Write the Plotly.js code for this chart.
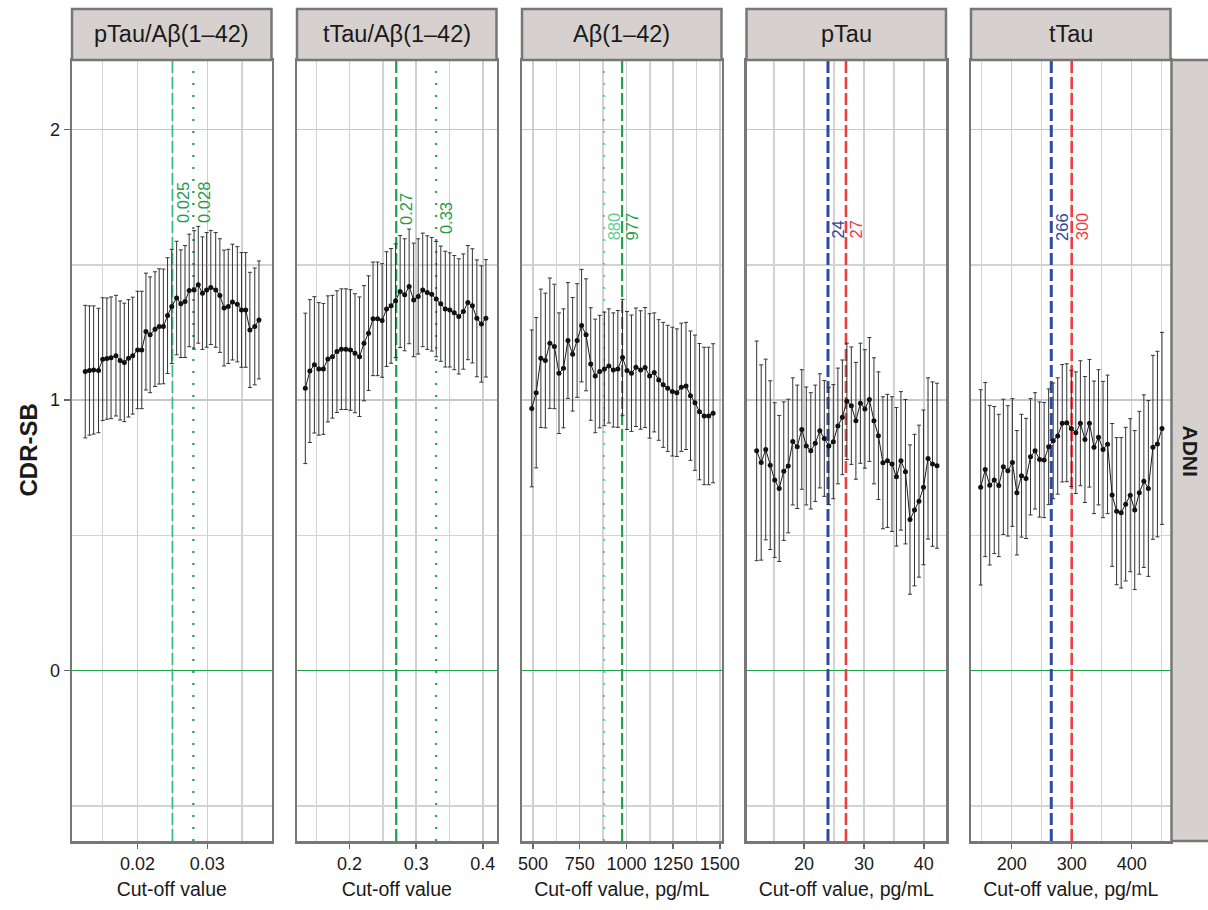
<!DOCTYPE html>
<html><head><meta charset="utf-8">
<script src="https://cdn.plot.ly/plotly-3.0.1.min.js"></script>
<style>html,body{margin:0;padding:0;background:#fff}#chart{width:1208px;height:910px}</style>
</head><body><div id="chart"></div>
<script>
// ---- data ----
const panelTitles = ["pTau/A\u03b2(1\u201342)", "tTau/A\u03b2(1\u201342)", "A\u03b2(1\u201342)", "pTau", "tTau"];
const xTitles = ["Cut-off value", "Cut-off value", "Cut-off value, pg/mL", "Cut-off value, pg/mL", "Cut-off value, pg/mL"];
const rowLabel = "ADNI";
const yTitle = "CDR-SB";

const x1 = [0.0125,0.0131,0.0137,0.0144,0.0150,0.0156,0.0162,0.0169,0.0175,0.0181,0.0187,0.0193,0.0200,0.0206,0.0212,0.0218,0.0225,0.0231,0.0237,0.0243,0.0249,0.0256,0.0262,0.0268,0.0274,0.0281,0.0287,0.0293,0.0299,0.0305,0.0312,0.0318,0.0324,0.0330,0.0336,0.0343,0.0349,0.0355,0.0361,0.0368,0.0374];
const y1 = [1.105,1.109,1.111,1.109,1.151,1.153,1.156,1.164,1.146,1.139,1.154,1.164,1.185,1.185,1.253,1.241,1.262,1.272,1.272,1.312,1.346,1.377,1.356,1.364,1.405,1.407,1.426,1.395,1.407,1.416,1.407,1.386,1.340,1.346,1.362,1.354,1.333,1.333,1.259,1.272,1.296];
const e1 = [0.245,0.239,0.237,0.230,0.227,0.224,0.225,0.223,0.220,0.219,0.217,0.216,0.217,0.217,0.216,0.214,0.212,0.213,0.212,0.214,0.211,0.210,0.199,0.207,0.208,0.219,0.216,0.208,0.212,0.211,0.212,0.210,0.214,0.211,0.214,0.213,0.212,0.212,0.213,0.216,0.218];

const x2 = [0.1335,0.1403,0.1471,0.1538,0.1606,0.1674,0.1742,0.1810,0.1877,0.1945,0.2013,0.2081,0.2149,0.2216,0.2284,0.2352,0.2420,0.2488,0.2555,0.2623,0.2691,0.2759,0.2827,0.2894,0.2962,0.3030,0.3098,0.3166,0.3233,0.3301,0.3369,0.3437,0.3505,0.3572,0.3640,0.3708,0.3776,0.3844,0.3911,0.3979,0.4047];
const y2 = [1.043,1.107,1.130,1.115,1.115,1.152,1.160,1.179,1.188,1.188,1.185,1.173,1.160,1.210,1.247,1.300,1.300,1.294,1.336,1.348,1.367,1.401,1.389,1.420,1.370,1.383,1.407,1.397,1.391,1.373,1.356,1.336,1.333,1.323,1.309,1.327,1.360,1.348,1.302,1.281,1.302];
const e2 = [0.278,0.264,0.252,0.245,0.242,0.233,0.227,0.225,0.223,0.223,0.223,0.220,0.221,0.213,0.212,0.210,0.210,0.210,0.212,0.212,0.210,0.207,0.207,0.212,0.210,0.213,0.210,0.210,0.210,0.213,0.213,0.214,0.211,0.211,0.213,0.213,0.211,0.211,0.216,0.215,0.217];

const x3 = [493,517,542,566,590,614,639,663,687,712,736,760,784,809,833,857,882,906,930,954,979,1003,1027,1051,1076,1100,1124,1149,1173,1197,1221,1246,1270,1294,1319,1343,1367,1391,1416,1440,1464];
const y3 = [0.969,1.027,1.154,1.146,1.210,1.198,1.099,1.117,1.220,1.169,1.220,1.275,1.241,1.133,1.089,1.105,1.115,1.126,1.111,1.115,1.157,1.109,1.099,1.121,1.111,1.120,1.089,1.102,1.074,1.056,1.043,1.031,1.027,1.047,1.052,1.016,0.990,0.957,0.941,0.941,0.951];
const e3 = [0.290,0.278,0.256,0.249,0.241,0.230,0.223,0.220,0.214,0.210,0.210,0.208,0.207,0.208,0.210,0.208,0.210,0.211,0.211,0.216,0.215,0.218,0.215,0.219,0.219,0.222,0.230,0.220,0.223,0.231,0.233,0.238,0.236,0.237,0.235,0.239,0.250,0.252,0.254,0.254,0.257];

const x4 = [12.10,12.85,13.61,14.36,15.11,15.86,16.62,17.37,18.12,18.87,19.63,20.38,21.13,21.88,22.64,23.39,24.14,24.89,25.65,26.40,27.15,27.90,28.66,29.41,30.16,30.91,31.67,32.42,33.17,33.92,34.68,35.43,36.18,36.93,37.69,38.44,39.19,39.94,40.70,41.45,42.20];
const y4 = [0.812,0.769,0.817,0.759,0.704,0.673,0.737,0.756,0.847,0.827,0.891,0.830,0.812,0.840,0.886,0.858,0.830,0.846,0.904,0.936,0.995,0.979,0.923,0.988,0.967,1.002,0.923,0.868,0.768,0.775,0.763,0.716,0.775,0.735,0.558,0.593,0.626,0.677,0.784,0.763,0.757];
const e4 = [0.406,0.361,0.334,0.312,0.286,0.270,0.256,0.247,0.235,0.228,0.221,0.218,0.215,0.215,0.211,0.214,0.217,0.211,0.214,0.212,0.215,0.217,0.216,0.222,0.219,0.229,0.233,0.236,0.244,0.246,0.249,0.256,0.256,0.267,0.276,0.280,0.281,0.286,0.298,0.304,0.305];

const x5 = [148.3,155.9,163.4,171.0,178.5,186.1,193.6,201.2,208.7,216.3,223.9,231.4,239.0,246.5,254.1,261.6,269.2,276.7,284.3,291.8,299.4,306.9,314.5,322.1,329.6,337.2,344.7,352.3,359.8,367.4,374.9,382.5,390.0,397.6,405.1,412.7,420.3,427.8,435.4,442.9,450.5];
const y5 = [0.677,0.743,0.685,0.704,0.684,0.753,0.738,0.769,0.657,0.720,0.710,0.790,0.812,0.780,0.778,0.827,0.849,0.867,0.914,0.916,0.895,0.879,0.914,0.854,0.914,0.825,0.862,0.817,0.836,0.649,0.589,0.583,0.615,0.648,0.593,0.657,0.700,0.673,0.825,0.837,0.895];
const e5 = [0.361,0.322,0.295,0.272,0.263,0.250,0.241,0.236,0.230,0.227,0.222,0.215,0.215,0.213,0.213,0.214,0.214,0.215,0.217,0.218,0.215,0.225,0.231,0.233,0.236,0.245,0.250,0.252,0.256,0.264,0.272,0.278,0.284,0.283,0.294,0.301,0.319,0.325,0.340,0.343,0.355];

const cutValues = [[0.025, 0.028], [0.27, 0.33], [880, 977], [24, 27], [266, 300]];
const cutLabels = [["0.025", "0.028"], ["0.27", "0.33"], ["880", "977"], ["24", "27"], ["266", "300"]];

// ---- styling / layout constants ----
const W = 1208, H = 910;
const xs = [x1, x2, x3, x4, x5], ys = [y1, y2, y3, y4, y5], es = [e1, e2, e3, e4, e5];
const pxLeft = [72, 297, 522, 746.5, 971];
const pxWidth = 199.5;
const yTopPx = 60, yBotPx = 841, stripTopPx = 9;
const xRanges = [[0.0106, 0.0392], [0.121, 0.4206], [441, 1509], [10.4, 43.7], [132.2, 464.7]];
const xDticks = [0.01, 0.1, 250, 10, 100];
const cutStyles = [
  [{c: '#35c27c', d: '12px,4px', w: 1.8}, {c: '#1c9a4e', d: '2px,10px', w: 2.2}],
  [{c: '#17a04b', d: '12px,4px', w: 2.2}, {c: '#22a85a', d: '2px,10px', w: 2.2}],
  [{c: '#62d39c', d: '2px,10px', w: 2.2}, {c: '#1fa34f', d: '12px,4px', w: 2.2}],
  [{c: '#2d4b9f', d: '12px,4px', w: 3}, {c: '#ef3e43', d: '12px,4px', w: 2.6}],
  [{c: '#2d4b9f', d: '12px,4px', w: 3}, {c: '#ef3e43', d: '12px,4px', w: 2.6}]
];
const labelColors = [['#1f9e4f', '#1f9e4f'], ['#1f9e4f', '#1f9e4f'], ['#5ccf95', '#1f9e4f'], ['#2d4b9f', '#ef3e43'], ['#2d4b9f', '#ef3e43']];
const labelY = [[1.73, 1.73], [1.707, 1.673], [1.642, 1.642], [1.63, 1.63], [1.641, 1.641]];

const FONT = 'Liberation Sans, Arial, Helvetica, sans-serif';
const yDom = [(H - yBotPx) / H, (H - yTopPx) / H];
const yRange = [(670.5 - yBotPx) / 270.5, (670.5 - yTopPx) / 270.5];

const traces = [];
const layout = {
  width: W, height: H,
  margin: {l: 0, r: 0, t: 0, b: 0},
  paper_bgcolor: '#ffffff', plot_bgcolor: '#ffffff',
  showlegend: false,
  font: {family: FONT, color: '#222'},
  shapes: [], annotations: []
};

for (let i = 0; i < 5; i++) {
  const sfx = i === 0 ? '' : String(i + 1);
  const d0 = pxLeft[i] / W, d1 = (pxLeft[i] + pxWidth) / W;
  // cut-off reference lines (drawn first, so the data sits on top)
  for (let k = 0; k < 2; k++) {
    const st = cutStyles[i][k];
    traces.push({
      type: 'scatter', mode: 'lines',
      x: [cutValues[i][k], cutValues[i][k]], y: yRange,
      xaxis: 'x' + sfx, yaxis: 'y' + sfx,
      line: {color: st.c, width: st.w, dash: st.d},
      hoverinfo: 'skip', cliponaxis: true
    });
    layout.annotations.push({
      xref: 'x' + sfx, yref: 'y' + sfx,
      x: cutValues[i][k], y: labelY[i][k],
      text: cutLabels[i][k], textangle: -90, showarrow: false,
      xanchor: 'center', yanchor: 'middle', xshift: 10,
      font: {family: FONT, size: 16.5, color: labelColors[i][k]}
    });
  }
  traces.push({
    type: 'scatter', mode: 'lines+markers',
    x: xs[i], y: ys[i],
    xaxis: 'x' + sfx, yaxis: 'y' + sfx,
    line: {color: '#1a1a1a', width: 1},
    marker: {size: 5, color: '#111'},
    error_y: {type: 'data', array: es[i], visible: true, color: '#333', thickness: 1, width: 2},
    hoverinfo: 'x+y'
  });
  layout['xaxis' + sfx] = {
    domain: [d0, d1], anchor: 'y' + sfx, range: xRanges[i],
    dtick: xDticks[i], tick0: 0,
    showgrid: true, gridcolor: '#cfcfcf', gridwidth: 1.5,
    minor: {dtick: xDticks[i] / 2, tick0: 0, showgrid: true, gridcolor: '#d3d3d3', gridwidth: 1.5, ticks: ''},
    zeroline: false,
    showline: true, mirror: true, linecolor: '#777', linewidth: 2.5,
    ticks: 'outside', ticklen: 5, tickwidth: 1.5, tickcolor: '#666',
    tickfont: {family: FONT, size: 18, color: '#1a1a1a'},
    title: {text: xTitles[i], font: {family: FONT, size: 19.5, color: '#1a1a1a'}, standoff: 10},
    automargin: false, fixedrange: true
  };
  layout['yaxis' + sfx] = {
    domain: yDom, anchor: 'x' + sfx, range: yRange,
    dtick: 1, tick0: 0,
    showgrid: true, gridcolor: '#c8c8c8', gridwidth: 1.5,
    minor: {dtick: 0.5, tick0: 0, showgrid: true, gridcolor: '#d3d3d3', gridwidth: 1.5, ticks: ''},
    zeroline: true, zerolinecolor: '#1fa64a', zerolinewidth: 1.8,
    showline: true, mirror: true, linecolor: '#777', linewidth: 2.5,
    ticks: i === 0 ? 'outside' : '', ticklen: 6, tickwidth: 1.5, tickcolor: '#666',
    showticklabels: i === 0,
    tickfont: {family: FONT, size: 18, color: '#1a1a1a'},
    automargin: false, fixedrange: true
  };
  // strip header
  layout.shapes.push({
    type: 'rect', xref: 'paper', yref: 'paper',
    x0: d0, x1: d1, y0: yDom[1], y1: (H - stripTopPx) / H,
    fillcolor: '#d6d1ce', line: {color: '#777', width: 2.5}
  });
  layout.annotations.push({
    xref: 'paper', yref: 'paper', x: (d0 + d1) / 2, y: (H - (stripTopPx + yTopPx) / 2) / H,
    text: panelTitles[i], showarrow: false, xanchor: 'center', yanchor: 'middle',
    font: {family: FONT, size: 23.5, color: '#1a1a1a'}
  });
}

// right facet strip
layout.shapes.push({
  type: 'rect', xref: 'paper', yref: 'paper',
  x0: 1171.5 / W, x1: 1.05, y0: yDom[0], y1: yDom[1],
  fillcolor: '#d6d1ce', line: {color: '#777', width: 2.5}
});
layout.annotations.push({
  xref: 'paper', yref: 'paper', x: 1190 / W, y: (yDom[0] + yDom[1]) / 2,
  text: '<b>' + rowLabel + '</b>', textangle: 90, showarrow: false,
  xanchor: 'center', yanchor: 'middle',
  font: {family: FONT, size: 21, color: '#1a1a1a'}
});
layout.annotations.push({
  xref: 'paper', yref: 'paper', x: 28 / W, y: (yDom[0] + yDom[1]) / 2,
  text: '<b>' + yTitle + '</b>', textangle: -90, showarrow: false,
  xanchor: 'center', yanchor: 'middle',
  font: {family: FONT, size: 24, color: '#1a1a1a'}
});

Plotly.newPlot('chart', traces, layout, {staticPlot: true, displayModeBar: false});
</script></body></html>
